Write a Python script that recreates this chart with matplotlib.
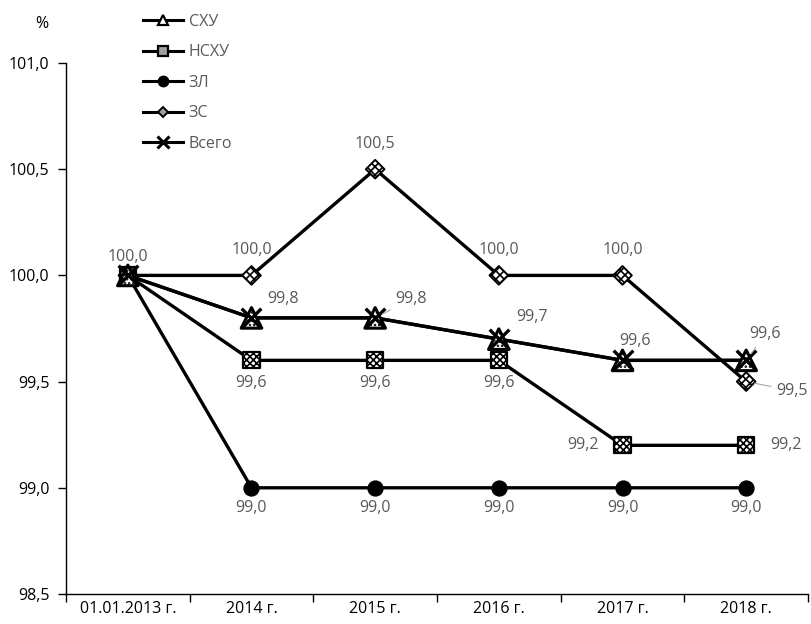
import numpy as np
import matplotlib
matplotlib.use("Agg")
import matplotlib.pyplot as plt
from matplotlib.lines import Line2D
from matplotlib.ticker import FuncFormatter, FixedLocator

plt.rcParams['font.family'] = ['Open Sans', 'DejaVu Sans']
plt.rcParams['hatch.linewidth'] = 1.2

categories = ["01.01.2013 г.", "2014 г.", "2015 г.", "2016 г.", "2017 г.", "2018 г."]
shu = [100.0, 99.8, 99.8, 99.7, 99.6, 99.6]
nshu = [100.0, 99.6, 99.6, 99.6, 99.2, 99.2]
zl = [100.0, 99.0, 99.0, 99.0, 99.0, 99.0]
zs = [100.0, 100.0, 100.5, 100.0, 100.0, 99.5]
vsego = [100.0, 99.8, 99.8, 99.7, 99.6, 99.6]
series_names = ["СХУ", "НСХУ", "ЗЛ", "ЗС", "Всего"]

fs = 11.5
fig = plt.figure(figsize=(8.11, 6.24), dpi=100)
ax = fig.add_axes([66/811, 1-594/624, (808-66)/811, (594-63)/624])
x = np.arange(len(categories))

lw = 2.4
for vals in [shu, nshu, zl, zs, vsego]:
    ax.plot(x, vals, color='black', lw=lw, zorder=2, solid_capstyle='round')

ax.scatter(x, zs, marker='D', s=90, facecolor='white', edgecolor='black', hatch='xxxx', linewidths=1.4, zorder=3)
ax.scatter(x, zl, marker='o', s=115, facecolor='black', edgecolor='black', zorder=3)
ax.scatter(x, nshu, marker='s', s=135, facecolor='white', edgecolor='black', hatch='xxxxx', linewidths=1.6, zorder=3)
ax.scatter(x, shu, marker='^', s=220, facecolor='white', edgecolor='black', hatch='....', linewidths=2.2, zorder=4)
ax.scatter(x, vsego, marker='x', s=200, color='black', linewidths=2.4, zorder=5)

ax.set_xlim(-0.5, len(categories) - 0.5)
ax.set_ylim(98.5, 101.0)
ax.yaxis.set_major_locator(FixedLocator([98.5, 99.0, 99.5, 100.0, 100.5, 101.0]))
ax.yaxis.set_major_formatter(FuncFormatter(lambda v, p: f"{v:.1f}".replace('.', ',')))
ax.set_xticks(x)
ax.set_xticklabels(categories)
ax.set_xticks(np.arange(-0.5, len(categories), 1), minor=True)
ax.tick_params(axis='x', which='major', length=0, labelsize=fs, pad=5, colors='black')
ax.tick_params(axis='x', which='minor', length=6, width=1, direction='out')
ax.tick_params(axis='y', which='major', length=6, width=1, direction='out', labelsize=fs, pad=6)
for s in ['top', 'right']:
    ax.spines[s].set_visible(False)
for s in ['left', 'bottom']:
    ax.spines[s].set_linewidth(1.0)

fig.text(42/811, 1-24/624, '%', ha='center', va='center', fontsize=fs)

lab_color = '#595959'
def fmt(v):
    return f"{v:.1f}".replace('.', ',')

def lab(i, v, dx, dy, ha='center', leader=None):
    ax.annotate(fmt(v), xy=(x[i], v), xytext=(dx, dy), textcoords='offset pixels',
                ha=ha, va='center', fontsize=fs, color=lab_color, zorder=6,
                arrowprops=None if leader is None else dict(arrowstyle='-', color='#a6a6a6', lw=0.8, shrinkA=2, shrinkB=6))

# start
lab(0, zs[0], 0, 18)
# ZS labels above
for i in [1, 2, 3, 4]:
    lab(i, zs[i], 0, 25)
lab(5, zs[5], 46, -9, leader=True)
# Vsego labels
lab(1, vsego[1], 31, 19)
lab(2, vsego[2], 36, 19, leader=True)
lab(3, vsego[3], 33, 22)
lab(4, vsego[4], 13, 19)
lab(5, vsego[5], 19, 26, leader=True)
# NSHU
for i in [1, 2, 3]:
    lab(i, nshu[i], 0, -23)
lab(4, nshu[4], -40, 0)
lab(5, nshu[5], 40, 0)
# ZL
for i in range(1, 6):
    lab(i, zl[i], 0, -20)

handles = [
    Line2D([], [], color='black', lw=2.2, marker='^', markersize=7, markerfacecolor='white', markeredgewidth=1.6),
    Line2D([], [], color='black', lw=2.2, marker='s', markersize=7, markerfacecolor='#a0a0a0', markeredgewidth=1.6),
    Line2D([], [], color='black', lw=2.2, marker='o', markersize=7.5),
    Line2D([], [], color='black', lw=2.2, marker='D', markersize=5, markerfacecolor='#a0a0a0', markeredgewidth=1.4),
    Line2D([], [], color='black', lw=2.2, marker='x', markersize=8, markeredgewidth=2.2),
]
leg = fig.legend(handles, series_names, loc='upper left', bbox_to_anchor=(143/811, 1-14/624),
                 frameon=False, fontsize=fs, labelspacing=0.9, handlelength=2.5,
                 handletextpad=0.35, borderaxespad=0, borderpad=0)
for t in leg.get_texts():
    t.set_color(lab_color)

fig.savefig('out.png', dpi=100)
